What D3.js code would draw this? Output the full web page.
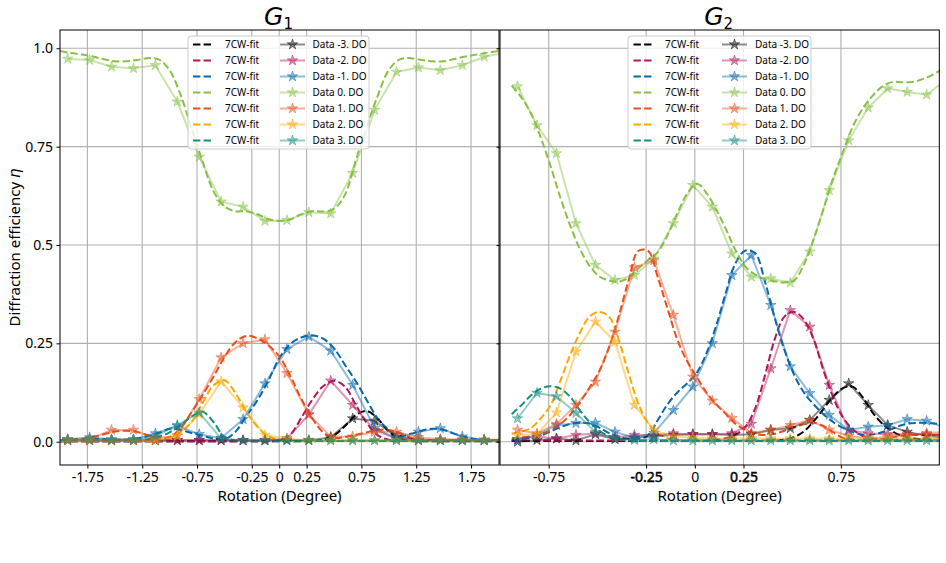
<!DOCTYPE html>
<html>
<head>
<meta charset="utf-8">
<script src="https://cdn.jsdelivr.net/npm/d3@7"></script>
<style>
body { margin: 0; background: #fff; }
text { font-family: "Noto Sans", sans-serif; }
</style>
</head>
<body>
<div id="chart"></div>
<script>
var ctx = {
    w: 946,
    h: 563,
    top: 30,
    bottom: 465
};

// ---- shared axis values ----
var yDomain = [-0.0592, 1.0465];
var yTicks = [0, 0.25, 0.5, 0.75, 1.0];
var yTickLabels = ["0.0", "0.25", "0.5", "0.75", "1.0"];
var orderNames = ["-3", "-2", "-1", "0", "1", "2", "3"];
var colors = ["#000000", "#b3175a", "#0868ac", "#88c046", "#e6501e", "#f9a800", "#178f7e"];

// ---- G1 ----
var g1XTicks = [-1.75, -1.25, -0.75, -0.25, 0, 0.25, 0.75, 1.25, 1.75];
var g1XTickLabels = ["-1.75", "-1.25", "-0.75", "-0.25", "0", "0.25", "0.75", "1.25", "1.75"];

var g1DataX = [-1.93, -1.73, -1.53, -1.33, -1.13, -0.93, -0.73, -0.53, -0.33, -0.13, 0.07,
    0.27, 0.47, 0.67, 0.87, 1.07, 1.27, 1.47, 1.67, 1.87, 2.07];
var g1DataM3 = [0.004, 0.004, 0.004, 0.004, 0.004, 0.004, 0.004, 0.004, 0.004, 0.004, 0.004,
    0.004, 0.011, 0.059, 0.053, 0.013, 0.004, 0.004, 0.004, 0.004, 0.004];
var g1DataM2 = [0.003, 0.003, 0.003, 0.003, 0.003, 0.003, 0.003, 0.003, 0.003, 0.003, 0.008,
    0.069, 0.155, 0.093, 0.030, 0.008, 0.005, 0.005, 0.005, 0.005, 0.005];
var g1DataM1 = [0.006, 0.011, 0.006, 0.006, 0.021, 0.040, 0.019, 0.009, 0.057, 0.148, 0.235,
    0.267, 0.231, 0.144, 0.035, 0.008, 0.025, 0.034, 0.013, 0.004, 0.004];
var g1Data0 = [0.973, 0.970, 0.953, 0.949, 0.957, 0.864, 0.724, 0.610, 0.597, 0.561, 0.563,
    0.583, 0.580, 0.683, 0.843, 0.940, 0.951, 0.944, 0.957, 0.978, 0.990];
var g1DataP1 = [0.006, 0.006, 0.030, 0.030, 0.008, 0.015, 0.108, 0.214, 0.250, 0.260, 0.174,
    0.069, 0.013, 0.013, 0.025, 0.025, 0.011, 0.006, 0.005, 0.004, 0.004];
var g1DataP2 = [0.004, 0.004, 0.004, 0.004, 0.004, 0.015, 0.070, 0.153, 0.087, 0.017, 0.008,
    0.004, 0.004, 0.004, 0.004, 0.004, 0.004, 0.004, 0.004, 0.004, 0.004];
var g1DataP3 = [0.005, 0.005, 0.005, 0.005, 0.013, 0.042, 0.074, 0.008, 0.003, 0.003, 0.003,
    0.003, 0.003, 0.003, 0.003, 0.003, 0.003, 0.003, 0.003, 0.003, 0.003];

var g1FitX = [-2.0, -1.9, -1.8, -1.7, -1.6, -1.5, -1.4, -1.3, -1.2, -1.1, -1.0, -0.9, -0.8, -0.7,
    -0.6, -0.5, -0.4, -0.3, -0.2, -0.1, 0.0, 0.1, 0.2, 0.3, 0.4, 0.5, 0.6, 0.7, 0.8, 0.9, 1.0,
    1.1, 1.2, 1.3, 1.4, 1.5, 1.6, 1.7, 1.8, 1.9, 2.0];
var g1FitM3 = [0.001, 0.001, 0.001, 0.001, 0.001, 0.001, 0.001, 0.001, 0.001, 0.001, 0.001, 0.001,
    0.001, 0.001, 0.001, 0.001, 0.001, 0.001, 0.001, 0.001, 0.001, 0.001, 0.001, 0.001, 0.005, 0.016,
    0.040, 0.068, 0.078, 0.058, 0.026, 0.008, 0.002, 0.001, 0.001, 0.001, 0.001, 0.001, 0.001, 0.001, 0.001];
var g1FitM2 = [0.001, 0.001, 0.001, 0.001, 0.001, 0.001, 0.001, 0.001, 0.001, 0.001, 0.001, 0.001,
    0.001, 0.001, 0.001, 0.001, 0.001, 0.001, 0.001, 0.001, 0.004, 0.018, 0.060, 0.106, 0.141, 0.155,
    0.140, 0.093, 0.047, 0.016, 0.005, 0.002, 0.002, 0.002, 0.002, 0.002, 0.002, 0.002, 0.002, 0.002, 0.002];
var g1FitM1 = [0.004, 0.005, 0.007, 0.008, 0.007, 0.005, 0.005, 0.008, 0.014, 0.022, 0.033, 0.030,
    0.022, 0.015, 0.008, 0.006, 0.025, 0.065, 0.105, 0.155, 0.212, 0.248, 0.265, 0.270, 0.262, 0.237,
    0.195, 0.153, 0.105, 0.058, 0.030, 0.014, 0.020, 0.028, 0.033, 0.030, 0.020, 0.012, 0.006, 0.004, 0.004];
var g1Fit0 = [0.993, 0.988, 0.984, 0.979, 0.972, 0.967, 0.967, 0.970, 0.975, 0.972, 0.944, 0.882,
    0.797, 0.713, 0.637, 0.598, 0.586, 0.586, 0.578, 0.566, 0.561, 0.565, 0.578, 0.586, 0.585, 0.592,
    0.628, 0.716, 0.802, 0.880, 0.945, 0.972, 0.975, 0.970, 0.967, 0.967, 0.973, 0.979, 0.984, 0.989, 0.993];
var g1FitP1 = [0.003, 0.004, 0.007, 0.012, 0.019, 0.026, 0.028, 0.025, 0.017, 0.009, 0.012, 0.035,
    0.075, 0.118, 0.165, 0.215, 0.253, 0.269, 0.263, 0.245, 0.217, 0.168, 0.110, 0.060, 0.024, 0.010,
    0.012, 0.018, 0.024, 0.030, 0.030, 0.022, 0.010, 0.005, 0.004, 0.004, 0.004, 0.004, 0.004, 0.004, 0.004];
var g1FitP2 = [0.002, 0.002, 0.002, 0.002, 0.002, 0.002, 0.002, 0.002, 0.002, 0.002, 0.008, 0.024,
    0.050, 0.098, 0.143, 0.156, 0.124, 0.076, 0.038, 0.014, 0.005, 0.002, 0.002, 0.002, 0.002, 0.002,
    0.002, 0.002, 0.002, 0.002, 0.002, 0.002, 0.002, 0.002, 0.002, 0.002, 0.002, 0.002, 0.002, 0.002, 0.002];
var g1FitP3 = [0.003, 0.003, 0.003, 0.003, 0.003, 0.003, 0.003, 0.003, 0.006, 0.012, 0.024, 0.042,
    0.064, 0.076, 0.050, 0.012, 0.003, 0.002, 0.002, 0.002, 0.002, 0.002, 0.002, 0.002, 0.002, 0.002,
    0.002, 0.002, 0.002, 0.002, 0.002, 0.002, 0.002, 0.002, 0.002, 0.002, 0.002, 0.002, 0.002, 0.002, 0.002];

// ---- G2 ----
var g2XTicks = [-0.75, -0.25, 0, 0.25, 0.75];
var g2XTickLabels = ["-0.75", "-0.25", "0", "0.25", "0.75"];
var g2BoldTicks = ["-0.25", "0.25"];

var g2DataX = [-0.91, -0.81, -0.71, -0.61, -0.51, -0.41, -0.31, -0.21, -0.11, -0.01, 0.09, 0.19,
    0.29, 0.39, 0.49, 0.59, 0.69, 0.79, 0.89, 0.99, 1.09, 1.19, 1.29];
var g2DataM3 = [0.000, 0.004, 0.008, 0.003, 0.019, 0.006, 0.010, 0.014, 0.017, 0.019, 0.019, 0.017,
    0.019, 0.030, 0.034, 0.055, 0.106, 0.148, 0.093, 0.042, 0.025, 0.015, 0.010];
var g2DataM2 = [0.006, 0.013, 0.008, 0.017, 0.021, 0.011, 0.017, 0.017, 0.021, 0.019, 0.019, 0.021,
    0.045, 0.186, 0.334, 0.292, 0.144, 0.030, 0.021, 0.019, 0.019, 0.019, 0.019];
var g2DataM1 = [0.004, 0.017, 0.042, 0.047, 0.048, 0.025, 0.010, 0.022, 0.080, 0.140, 0.250, 0.423,
    0.474, 0.347, 0.191, 0.123, 0.068, 0.030, 0.038, 0.042, 0.057, 0.053, 0.035];
var g2Data0 = [0.903, 0.804, 0.733, 0.555, 0.449, 0.411, 0.423, 0.465, 0.555, 0.652, 0.597, 0.478,
    0.419, 0.415, 0.404, 0.483, 0.639, 0.766, 0.849, 0.898, 0.889, 0.882, 0.920];
var g2DataP1 = [0.030, 0.021, 0.045, 0.093, 0.152, 0.279, 0.443, 0.461, 0.322, 0.165, 0.104, 0.060,
    0.022, 0.030, 0.042, 0.055, 0.030, 0.015, 0.008, 0.012, 0.017, 0.022, 0.025];
var g2DataP2 = [0.017, 0.019, 0.074, 0.229, 0.305, 0.254, 0.093, 0.030, 0.013, 0.010, 0.008, 0.008,
    0.008, 0.008, 0.008, 0.008, 0.008, 0.008, 0.008, 0.008, 0.008, 0.008, 0.008];
var g2DataP3 = [0.059, 0.124, 0.115, 0.073, 0.024, 0.008, 0.004, 0.006, 0.003, 0.003, 0.003, 0.003,
    0.003, 0.003, 0.003, 0.003, 0.003, 0.003, 0.003, 0.003, 0.003, 0.003, 0.003];

var g2FitX = [-0.94, -0.89, -0.84, -0.79, -0.74, -0.69, -0.64, -0.59, -0.54, -0.49, -0.44, -0.39,
    -0.34, -0.29, -0.24, -0.19, -0.14, -0.09, -0.04, 0.01, 0.06, 0.11, 0.16, 0.21, 0.26, 0.31, 0.36,
    0.41, 0.46, 0.51, 0.56, 0.61, 0.66, 0.71, 0.76, 0.81, 0.86, 0.91, 0.96, 1.01, 1.06, 1.11, 1.16,
    1.21, 1.26];
var g2FitM3 = [0.002, 0.002, 0.002, 0.002, 0.002, 0.002, 0.002, 0.002, 0.002, 0.002, 0.002, 0.002,
    0.002, 0.002, 0.002, 0.002, 0.002, 0.002, 0.002, 0.002, 0.002, 0.002, 0.002, 0.002, 0.002, 0.002,
    0.002, 0.003, 0.005, 0.012, 0.026, 0.052, 0.083, 0.115, 0.136, 0.140, 0.114, 0.076, 0.047, 0.028,
    0.015, 0.009, 0.006, 0.004, 0.004];
var g2FitM2 = [0.003, 0.003, 0.003, 0.003, 0.003, 0.003, 0.003, 0.003, 0.003, 0.003, 0.003, 0.003,
    0.003, 0.003, 0.003, 0.003, 0.003, 0.003, 0.003, 0.003, 0.003, 0.005, 0.009, 0.018, 0.038, 0.085,
    0.168, 0.260, 0.318, 0.330, 0.310, 0.260, 0.182, 0.113, 0.062, 0.032, 0.015, 0.008, 0.006, 0.005,
    0.005, 0.005, 0.005, 0.005, 0.005];
var g2FitM1 = [0.004, 0.006, 0.010, 0.016, 0.026, 0.037, 0.045, 0.048, 0.046, 0.036, 0.022, 0.012,
    0.007, 0.007, 0.016, 0.055, 0.095, 0.125, 0.148, 0.175, 0.225, 0.295, 0.380, 0.455, 0.486, 0.479,
    0.407, 0.315, 0.233, 0.170, 0.125, 0.095, 0.070, 0.050, 0.035, 0.025, 0.018, 0.018, 0.024, 0.032,
    0.042, 0.047, 0.048, 0.047, 0.045];
var g2Fit0 = [0.905, 0.875, 0.833, 0.772, 0.700, 0.620, 0.550, 0.490, 0.447, 0.420, 0.410, 0.407,
    0.417, 0.440, 0.462, 0.482, 0.525, 0.580, 0.630, 0.656, 0.632, 0.590, 0.540, 0.486, 0.445, 0.425,
    0.413, 0.408, 0.405, 0.410, 0.450, 0.515, 0.590, 0.670, 0.736, 0.800, 0.845, 0.878, 0.902, 0.914,
    0.914, 0.914, 0.920, 0.930, 0.944];
var g2FitP1 = [0.008, 0.011, 0.014, 0.020, 0.028, 0.045, 0.068, 0.100, 0.138, 0.180, 0.240, 0.320,
    0.410, 0.485, 0.485, 0.418, 0.338, 0.260, 0.205, 0.165, 0.125, 0.095, 0.070, 0.045, 0.030, 0.020,
    0.017, 0.020, 0.028, 0.036, 0.044, 0.048, 0.040, 0.024, 0.010, 0.005, 0.004, 0.005, 0.007, 0.011,
    0.015, 0.017, 0.017, 0.017, 0.017];
var g2FitP2 = [0.020, 0.026, 0.035, 0.060, 0.093, 0.155, 0.220, 0.277, 0.318, 0.330, 0.318, 0.258,
    0.174, 0.097, 0.047, 0.021, 0.009, 0.005, 0.004, 0.004, 0.004, 0.004, 0.004, 0.004, 0.004, 0.004,
    0.004, 0.004, 0.004, 0.004, 0.004, 0.004, 0.004, 0.004, 0.004, 0.004, 0.004, 0.004, 0.004, 0.004,
    0.004, 0.004, 0.004, 0.004, 0.004];
var g2FitP3 = [0.070, 0.093, 0.118, 0.135, 0.141, 0.135, 0.114, 0.080, 0.050, 0.028, 0.014, 0.006,
    0.003, 0.002, 0.002, 0.002, 0.002, 0.002, 0.002, 0.002, 0.002, 0.002, 0.002, 0.002, 0.002, 0.002,
    0.002, 0.002, 0.002, 0.002, 0.002, 0.002, 0.002, 0.002, 0.002, 0.002, 0.002, 0.002, 0.002, 0.002,
    0.002, 0.002, 0.002, 0.002, 0.002];


var panels = [
    {
        name: "g1", sub: "1", left: 60, right: 499, xDomain: [-2.0, 2.005],
        xTicks: g1XTicks, xTickLabels: g1XTickLabels, boldTicks: [], yLabels: true,
        dataX: g1DataX, data: [g1DataM3, g1DataM2, g1DataM1, g1Data0, g1DataP1, g1DataP2, g1DataP3],
        fitX: g1FitX, fits: [g1FitM3, g1FitM2, g1FitM1, g1Fit0, g1FitP1, g1FitP2, g1FitP3],
        legend: { x: 188, w: 181, c1: 193, t1: 225, c2: 280, t2: 312.5 }
    },
    {
        name: "g2", sub: "2", left: 500, right: 939.3, xDomain: [-1.0, 1.255],
        xTicks: g2XTicks, xTickLabels: g2XTickLabels, boldTicks: g2BoldTicks, yLabels: false,
        dataX: g2DataX, data: [g2DataM3, g2DataM2, g2DataM1, g2Data0, g2DataP1, g2DataP2, g2DataP3],
        fitX: g2FitX, fits: [g2FitM3, g2FitM2, g2FitM1, g2Fit0, g2FitP1, g2FitP2, g2FitP3],
        legend: { x: 628, w: 183, c1: 633.5, t1: 665, c2: 722, t2: 755 }
    }
];

var star = d3.symbol().type(d3.symbolStar).size(34);

var createPanel = function (svg, p) {
    var x = d3.scaleLinear().domain(p.xDomain).range([p.left, p.right]);
    var y = d3.scaleLinear().domain(yDomain).range([ctx.bottom, ctx.top]);
    var g = svg.append("g");

    svg.append("defs").append("clipPath")
        .attr("id", "clip-" + p.name)
        .append("rect")
        .attr("x", p.left).attr("y", ctx.top)
        .attr("width", p.right - p.left).attr("height", ctx.bottom - ctx.top);

    // grid
    g.selectAll(".vgrid").data(p.xTicks).enter().append("line")
        .attr("x1", function (d) { return x(d); })
        .attr("x2", function (d) { return x(d); })
        .attr("y1", ctx.top).attr("y2", ctx.bottom)
        .style("stroke", "#b0b0b0").style("stroke-width", 1.1);
    g.selectAll(".hgrid").data(yTicks).enter().append("line")
        .attr("x1", p.left).attr("x2", p.right)
        .attr("y1", function (d) { return y(d); })
        .attr("y2", function (d) { return y(d); })
        .style("stroke", "#b0b0b0").style("stroke-width", 1.1);

    var plot = g.append("g").attr("clip-path", "url(#clip-" + p.name + ")");

    var fitLine = d3.line()
        .x(function (d) { return x(d[0]); })
        .y(function (d) { return y(d[1]); })
        .curve(d3.curveCatmullRom.alpha(0.5));
    var dataLine = d3.line()
        .x(function (d) { return x(d[0]); })
        .y(function (d) { return y(d[1]); });

    // fitted curves
    p.fits.forEach(function (f, i) {
        plot.append("path")
            .datum(d3.zip(p.fitX, f))
            .attr("d", fitLine)
            .style("fill", "none")
            .style("stroke", colors[i])
            .style("stroke-width", 2)
            .style("stroke-dasharray", "7.4,3.2");
    });

    // measured data
    p.data.forEach(function (s, i) {
        var pts = d3.zip(p.dataX, s);
        plot.append("path")
            .datum(pts)
            .attr("d", dataLine)
            .style("fill", "none")
            .style("stroke", colors[i])
            .style("stroke-opacity", 0.45)
            .style("stroke-width", 2);
        plot.selectAll(".st" + i).data(pts).enter().append("path")
            .attr("d", star)
            .attr("transform", function (d) { return "translate(" + x(d[0]) + "," + y(d[1]) + ")"; })
            .style("fill", colors[i])
            .style("fill-opacity", 0.45)
            .style("stroke", colors[i])
            .style("stroke-opacity", 0.45)
            .style("stroke-width", 1);
    });

    // frame
    g.append("rect")
        .attr("x", p.left).attr("y", ctx.top)
        .attr("width", p.right - p.left).attr("height", ctx.bottom - ctx.top)
        .style("fill", "none").style("stroke", "#000").style("stroke-width", 1);

    // axes
    var xAxis = g.append("g")
        .attr("transform", "translate(0," + ctx.bottom + ")")
        .call(d3.axisBottom(x).tickValues(p.xTicks).tickSize(3.5).tickPadding(3.5)
            .tickFormat(function (d, i) { return p.xTickLabels[i]; }));
    xAxis.select(".domain").remove();
    xAxis.selectAll("text")
        .attr("font-size", 14).attr("font-family", "Noto Sans").attr("fill", "#000")
        .style("stroke", function (d, i) { return p.boldTicks.indexOf(p.xTickLabels[i]) >= 0 ? "#000" : "none"; })
        .style("stroke-width", 0.45);

    var yAxis = g.append("g")
        .attr("transform", "translate(" + p.left + ",0)")
        .call(d3.axisLeft(y).tickValues(yTicks).tickSize(3.5).tickPadding(3.5)
            .tickFormat(function (d, i) { return p.yLabels ? yTickLabels[i] : ""; }));
    yAxis.select(".domain").remove();
    yAxis.selectAll("text")
        .attr("font-size", 14).attr("font-family", "Noto Sans").attr("fill", "#000");

    // x label
    svg.append("text")
        .attr("x", (p.left + p.right) / 2).attr("y", 500.5)
        .attr("text-anchor", "middle")
        .attr("font-size", 15)
        .text("Rotation (Degree)");

    // title
    var title = svg.append("text")
        .attr("x", (p.left + p.right) / 2 - 1).attr("y", 25)
        .attr("text-anchor", "middle")
        .style("font-family", "DejaVu Sans");
    title.append("tspan").attr("font-size", 25).attr("font-style", "italic").text("G");
    title.append("tspan").attr("font-size", 15).attr("dy", 4).text(p.sub);

    // legend
    var L = p.legend;
    var lg = svg.append("g");
    lg.append("rect")
        .attr("x", L.x).attr("y", 36).attr("width", L.w).attr("height", 113)
        .attr("rx", 3)
        .style("fill", "#fff").style("fill-opacity", 0.8)
        .style("stroke", "#cccccc").style("stroke-width", 1);
    orderNames.forEach(function (o, i) {
        var ry = 44.5 + 16 * i;
        lg.append("line")
            .attr("x1", L.c1).attr("x2", L.c1 + 20).attr("y1", ry).attr("y2", ry)
            .style("stroke", colors[i]).style("stroke-width", 2)
            .style("stroke-dasharray", "7.4,3.2");
        lg.append("text")
            .attr("x", L.t1).attr("y", ry + 3.5)
            .attr("font-size", 10).text("7CW-fit");
        lg.append("line")
            .attr("x1", L.c2).attr("x2", L.c2 + 25).attr("y1", ry).attr("y2", ry)
            .style("stroke", colors[i]).style("stroke-opacity", 0.45).style("stroke-width", 2);
        lg.append("path")
            .attr("d", star)
            .attr("transform", "translate(" + (L.c2 + 12.5) + "," + ry + ")")
            .style("fill", colors[i]).style("fill-opacity", 0.45)
            .style("stroke", colors[i]).style("stroke-opacity", 0.45);
        lg.append("text")
            .attr("x", L.t2).attr("y", ry + 3.5)
            .attr("font-size", 10).text("Data " + o + ". DO");
    });
};

var createViz = function () {
    var svg = d3.select("#chart").append("svg")
        .attr("width", ctx.w)
        .attr("height", ctx.h);
    svg.append("rect").attr("width", ctx.w).attr("height", ctx.h).style("fill", "#fff");

    panels.forEach(function (p) {
        createPanel(svg, p);
    });

    // y label
    var yl = svg.append("text")
        .attr("transform", "translate(19.5," + ((ctx.top + ctx.bottom) / 2) + ") rotate(-90)")
        .attr("text-anchor", "middle")
        .attr("font-size", 15);
    yl.append("tspan").text("Diffraction efficiency ");
    yl.append("tspan").style("font-family", "DejaVu Sans").attr("font-style", "italic").text("η");
};

createViz();
</script>
</body>
</html>
